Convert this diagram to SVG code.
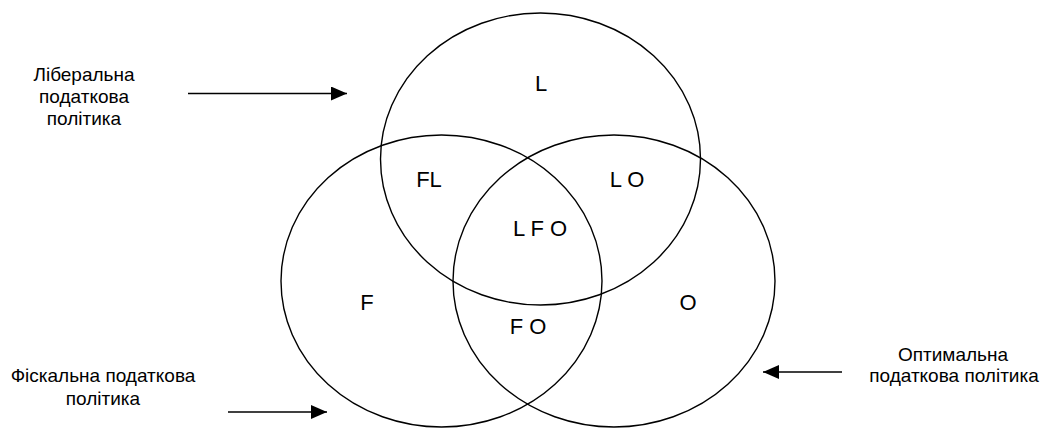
<svg xmlns="http://www.w3.org/2000/svg" width="1045" height="428" viewBox="0 0 1045 428">
<style>
.c{fill:none;stroke:#000;stroke-width:1.4}
.ln{stroke:#000;stroke-width:1.4;fill:none}
.t{font-family:"Liberation Sans",Arial,sans-serif;font-size:22px;fill:#000;text-anchor:middle}
.s{font-family:"Liberation Sans",Arial,sans-serif;font-size:19px;fill:#000;text-anchor:middle}
</style>
<defs>
<marker id="ah" viewBox="0 0 16 14" refX="16" refY="7" markerWidth="16" markerHeight="14" markerUnits="userSpaceOnUse" orient="auto">
<path d="M0,0 L16,7 L0,14 Z" fill="#000"/>
</marker>
</defs>
<rect width="1045" height="428" fill="#fff"/>
<g id="circle-L"><ellipse class="c" cx="540.5" cy="159" rx="160" ry="146"/></g>
<g id="circle-F"><ellipse class="c" cx="441.5" cy="281" rx="160.5" ry="146"/></g>
<g id="circle-O"><ellipse class="c" cx="614" cy="281" rx="161" ry="146"/></g>
<g id="regions">
<text class="t" x="541" y="91">L</text>
<text class="t" x="429" y="187">FL</text>
<text class="t" x="627" y="187">L O</text>
<text class="t" x="540" y="236">L F O</text>
<text class="t" x="367" y="310">F</text>
<text class="t" x="688" y="310">O</text>
<text class="t" x="528" y="334">F O</text>
</g>
<g id="label-liberal">
<text class="s" x="84" y="81">Ліберальна</text>
<text class="s" x="84" y="103">податкова</text>
<text class="s" x="84" y="125">політика</text>
</g>
<g id="label-fiscal">
<text class="s" x="103" y="382">Фіскальна податкова</text>
<text class="s" x="103" y="405">політика</text>
</g>
<g id="label-optimal">
<text class="s" x="953" y="361">Оптимальна</text>
<text class="s" x="954" y="382">податкова політика</text>
</g>
<g id="connectors">
<line class="ln" x1="188" y1="93.5" x2="347" y2="93.5" marker-end="url(#ah)"/>
<line class="ln" x1="228" y1="412" x2="327" y2="412" marker-end="url(#ah)"/>
<line class="ln" x1="842" y1="372" x2="763" y2="372" marker-end="url(#ah)"/>
</g>
</svg>
